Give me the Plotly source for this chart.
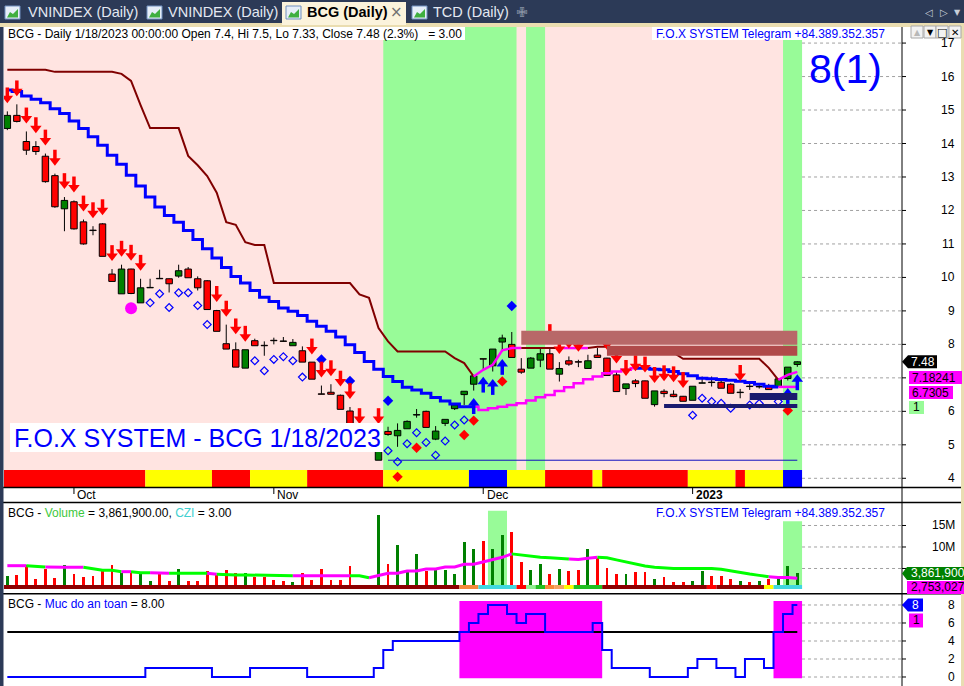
import plotly.graph_objects as go

W, H = 964, 686
FONT = "Liberation Sans, Arial, sans-serif"

# ----------------------------- data -----------------------------
month_labels = ["Oct", "Nov", "Dec", "2023"]
month_bar_idx = [7, 28, 50, 72]
price_ticks = list(range(4, 18))
price_labels_hidden_by_tags = [7]
volume_ticks = [5, 10, 15]          # millions
safety_ticks = [0, 2, 4, 6, 8]

opens = [14.45, 14.84, 14.06, 13.91, 13.62, 13.04, 12.05, 12.26, 11.66, 11.41,
         11.60, 10.10, 9.51, 10.25, 9.24, 9.69, 9.97, 9.96, 10.04, 10.25,
         9.96, 9.90, 9.01, 8.02, 7.84, 7.29, 8.11, 7.97, 8.12, 8.10,
         7.96, 7.81, 7.47, 6.52, 6.57, 6.48, 6.01, 5.35, 5.00, 4.54,
         5.40, 5.27, 5.48, 5.89, 6.00, 5.17, 5.64, 6.08, 6.50, 6.81,
         7.57, 7.36, 8.07, 8.00, 7.26, 7.29, 7.53, 7.72, 7.11, 7.51,
         7.48, 7.28, 7.68, 7.59, 7.09, 6.68, 6.91, 6.91, 6.20, 6.60,
         6.51, 6.45, 6.33, 6.84, 6.87, 6.87, 6.81, 6.56, 6.75, 6.73,
         6.75, 6.74, 6.98, 7.40]
highs = [14.96, 15.17, 14.36, 14.07, 13.70, 13.10, 12.40, 12.30, 11.73, 11.53,
         11.62, 10.25, 10.38, 10.26, 9.96, 9.96, 10.23, 9.97, 10.38, 10.31,
         10.03, 9.92, 9.03, 8.59, 8.06, 7.84, 8.17, 8.09, 8.20, 8.22,
         8.16, 7.94, 7.46, 6.77, 6.81, 6.50, 6.13, 5.38, 5.10, 5.38,
         5.54, 5.64, 5.73, 6.07, 6.02, 5.56, 5.76, 6.19, 6.60, 7.06,
         7.57, 7.86, 8.29, 8.37, 7.59, 7.62, 7.87, 7.89, 7.47, 7.64,
         7.54, 7.69, 7.89, 7.60, 7.19, 6.82, 6.96, 6.92, 6.61, 6.66,
         6.63, 6.46, 6.75, 7.04, 7.04, 6.92, 6.84, 6.67, 6.84, 6.80,
         6.82, 6.97, 7.32, 7.50]
lows = [14.40, 14.63, 13.66, 13.66, 12.83, 12.08, 11.38, 11.43, 10.98, 11.26,
        10.63, 9.88, 9.51, 9.50, 9.24, 9.69, 9.96, 9.55, 9.99, 9.99,
        9.61, 9.04, 8.39, 7.86, 7.32, 7.29, 7.96, 7.66, 8.00, 8.08,
        7.96, 7.47, 6.96, 6.51, 6.51, 6.06, 5.54, 4.90, 4.85, 4.54,
        5.27, 4.94, 5.48, 5.81, 5.52, 5.14, 5.56, 6.04, 6.19, 6.62,
        7.26, 7.19, 7.79, 7.61, 7.12, 7.29, 7.32, 7.26, 6.89, 7.36,
        7.32, 7.28, 7.61, 7.07, 6.59, 6.49, 6.72, 6.39, 6.14, 6.42,
        6.42, 6.30, 6.33, 6.84, 6.74, 6.69, 6.54, 6.39, 6.64, 6.68,
        6.65, 6.74, 6.92, 7.33]
closes = [14.84, 14.66, 13.80, 13.76, 12.86, 12.11, 12.30, 11.45, 11.00, 11.40,
          10.63, 9.88, 10.25, 9.52, 9.69, 9.70, 9.96, 9.81, 10.20, 9.99,
          9.69, 9.04, 8.39, 7.86, 7.32, 7.84, 7.96, 7.96, 8.11, 8.09,
          8.06, 7.47, 6.96, 6.51, 6.51, 6.06, 5.54, 4.95, 4.90, 4.95,
          5.31, 5.43, 5.70, 5.90, 5.52, 5.41, 5.76, 6.19, 6.60, 7.06,
          7.56, 7.86, 8.19, 7.61, 7.17, 7.59, 7.72, 7.26, 7.28, 7.41,
          7.47, 7.51, 7.61, 7.07, 6.59, 6.82, 6.83, 6.39, 6.61, 6.53,
          6.44, 6.30, 6.75, 6.85, 6.86, 6.69, 6.54, 6.57, 6.74, 6.74,
          6.65, 6.97, 7.32, 7.48]

upper_stop = [16.20, 16.20, 16.20, 16.20, 16.20, 16.14, 16.14, 16.14, 16.14, 16.14,
              16.14, 16.14, 16.08, 15.87, 15.15, 14.46, 14.46, 14.46, 14.46, 13.63,
              13.35, 13.03, 12.53, 11.65, 11.57, 11.05, 10.97, 10.97, 9.83, 9.83,
              9.83, 9.83, 9.83, 9.83, 9.83, 9.83, 9.83, 9.49, 9.39, 8.49,
              8.09, 7.79, 7.79, 7.79, 7.79, 7.79, 7.79, 7.59, 7.44, 7.04,
              7.24, 7.39, 7.82, 7.89, 7.89, 7.89, 7.89, 7.89, 7.89, 7.89,
              7.89, 7.89, 7.93, 7.93, 7.75, 7.75, 7.75, 7.75, 7.75, 7.75,
              7.75, 7.57, 7.57, 7.57, 7.57, 7.57, 7.57, 7.57, 7.57, 7.57,
              7.30, 6.94, 7.09, 7.18]
lower_ma = [15.60, 15.55, 15.42, 15.32, 15.22, 15.04, 14.90, 14.67, 14.45, 14.20,
            13.95, 13.65, 13.38, 13.05, 12.73, 12.40, 12.10, 11.85, 11.65, 11.40,
            11.13, 10.86, 10.58, 10.30, 10.03, 9.83, 9.61, 9.41, 9.28, 9.09,
            8.99, 8.86, 8.69, 8.54, 8.39, 8.22, 7.99, 7.76, 7.49, 7.26,
            7.04, 6.89, 6.72, 6.64, 6.54, 6.41, 6.31, 6.22, 6.14, 6.14,
            6.04, 6.09, 6.14, 6.19, 6.24, 6.32, 6.42, 6.49, 6.61, 6.72,
            6.84, 6.96, 7.04, 7.14, 7.19, 7.24, 7.29, 7.29, 7.26, 7.24,
            7.19, 7.12, 7.06, 6.99, 6.97, 6.95, 6.93, 6.90, 6.86, 6.81,
            6.75, 6.73, 6.73, 6.73]
upper_bull_runs = [(50, 54), (59, 61), (82, 83)]
lower_bull_runs = [(50, 66), (82, 83)]

volume_m = [3.26, 3.49, 5.81, 2.56, 4.88, 2.86, 5.81, 3.72, 3.09, 3.33,
            4.88, 5.81, 3.88, 4.42, 4.12, 2.09, 4.02, 2.09, 4.88, 2.09,
            2.09, 4.42, 3.49, 4.65, 3.88, 3.88, 3.09, 3.09, 2.33, 2.09,
            1.79, 3.88, 2.33, 4.88, 2.33, 2.33, 5.58, 0.93, 0.77, 17.4,
            5.98, 10.5, 4.65, 8.30, 4.42, 5.05, 4.65, 3.72, 11.1, 9.53,
            11.4, 9.47, 12.7, 13.6, 6.40, 4.72, 6.02, 3.72, 4.86, 4.49,
            4.72, 9.47, 7.53, 5.09, 3.72, 3.72, 4.26, 4.09, 2.56, 2.95,
            1.81, 1.81, 2.19, 4.49, 3.33, 3.33, 2.56, 2.19, 1.81, 2.19,
            2.56, 2.95, 5.63, 3.86]
volume_ma_m = [5.65, 5.65, 5.65, 5.58, 5.35, 5.23, 5.28, 5.28, 5.28, 4.88,
               4.58, 4.58, 4.26, 4.26, 4.02, 4.02, 3.88, 3.88, 3.88, 3.88,
               3.88, 3.88, 3.65, 3.49, 3.49, 3.49, 3.49, 3.49, 3.33, 3.33,
               3.33, 3.33, 3.33, 3.33, 3.33, 3.33, 3.33, 3.33, 2.86, 3.33,
               3.88, 3.88, 4.42, 4.42, 4.88, 4.88, 5.35, 5.35, 5.98, 5.98,
               6.50, 7.00, 7.60, 8.40, 8.10, 7.90, 7.60, 7.50, 7.40, 7.20,
               7.10, 7.40, 7.60, 7.50, 7.00, 6.50, 6.00, 5.60, 5.30, 5.10,
               5.00, 5.00, 5.00, 5.00, 5.00, 4.80, 4.40, 4.00, 3.70, 3.40,
               3.10, 2.90, 2.90, 2.75]
volume_ma_magenta_runs = [(0, 2), (5, 8), (13, 13), (16, 17), (22, 22), (31, 36),
                          (39, 53), (60, 62), (81, 83)]

safety = [0, 0, 0, 0, 0, 0, 0, 0, 0, 0, 0, 0, 0, 0, 0,
          1, 1, 1, 1, 1, 1, 1, 0, 0, 0, 0, 1, 1, 1, 1, 1, 1,
          0, 0, 0, 0, 0, 0, 0, 1, 3, 4, 4, 4, 4, 4, 4, 4, 5,
          6, 7, 8, 8, 7, 6, 7, 7, 5, 5, 5, 5, 5, 6, 3, 1, 1, 1, 1,
          0, 0, 0, 0, 1, 2, 2, 1, 1, 0, 2, 2, 1, 5, 7, 8]
safety_line_level = 5

trend_strip_runs = [("r", 15), ("y", 7), ("r", 4), ("y", 6), ("r", 8), ("y", 9), ("b", 4),
                    ("y", 4), ("r", 5), ("y", 1), ("r", 9), ("y", 5), ("r", 1), ("y", 4), ("b", 2)]
volume_strip_runs = [("d", 48), ("o", 2), ("c", 4), ("r", 1), ("l", 1), ("g", 1), ("o", 1),
                     ("s", 1), ("y", 1), ("g", 3), ("d", 11), ("r", 1), ("d", 5), ("y", 1), ("c", 3)]

green_zones = [(39.5, 53.5), (54.5, 56.5), (81.5, 83.5)]
supply_zones = [(54, 83, 8.41, 7.99, "rgb(184,104,104)"), (63, 83, 7.96, 7.66, "rgb(176,74,74)")]
demand_zones = [(78, 83, 6.55, 6.34), (69, 83, 6.22, 6.10)]
support_from_bar = 40
support_level_bar = 39

sell_arrow_bars = list(range(0, 15)) + [22, 23, 24, 25, 32, 33, 34, 35, 36, 37, 39,
                                         57, 58, 59, 60, 63, 64, 65, 66, 67, 68, 69, 70, 71, 77]
buy_arrow_bars = [49, 50, 51, 52, 82, 83]
open_diamond_bars = list(range(15, 22)) + list(range(26, 32)) + list(range(40, 49)) + \
    [72, 73, 74, 75, 76, 78, 79, 81]
blue_diamond_bars = [33, 36, 40, 53]
red_diamond_bars = [39, 41, 43, 48, 49, 52, 82]
magenta_circle_bars = [13]
safety_zones = [(47.5, 62.5), (80.5, 83.5)]
volume_zones = [(50.5, 52.5, 18.4), (81.5, 83.5, 16.0)]

header_text = "BCG - Daily 1/18/2023 00:00:00 Open 7.4, Hi 7.5, Lo 7.33, Close 7.48 (2.3%)   = 3.00"
telegram_text = "F.O.X SYSTEM Telegram +84.389.352.357"
price_tags = ["7.48", "7.18241", "6.7305", "1"]
volume_tags = ["3,861,900", "2,753,027"]
safety_tags = ["8", "1"]
tabs = ["VNINDEX (Daily)", "VNINDEX (Daily)", "BCG (Daily)", "TCD (Daily)"]

# ----------------------------- geometry -----------------------------
N = len(closes)
idx = list(range(N))
XR = (-0.35, 94.0)
Y1 = (3.74, 17.48)
Y2 = (-0.70, 20.23)
Y3 = (-1.0, 9.11)
MAIN_TOP, MAIN_BOT = 27, 487
VOL_TOP, VOL_BOT = 503, 593
SAF_TOP, SAF_BOT = 595, 686
PL, PR = 4, 902
ppu = (MAIN_BOT - MAIN_TOP) / (Y1[1] - Y1[0])
vppu = (VOL_BOT - VOL_TOP) / (Y2[1] - Y2[0])
sppu = (SAF_BOT - SAF_TOP) / (Y3[1] - Y3[0])


def bar_px(b):
    return PL + (b - XR[0]) / (XR[1] - XR[0]) * (PR - PL)


def main_py(v):
    return MAIN_TOP + (Y1[1] - v) * ppu


def vol_py(v):
    return VOL_TOP + (Y2[1] - v) * vppu


def saf_py(v):
    return SAF_TOP + (Y3[1] - v) * sppu


def run_spans(runs):
    out, start = [], 0
    for c, n in runs:
        out.append((c, start, start + n - 1))
        start += n
    return out


def runs_to_states(runs):
    st = [0] * N
    for a, b in runs:
        for k in range(a, b + 1):
            st[k] = 1
    return st


fig = go.Figure()

# ----------------------------- main panel -----------------------------
body_base = [min(o, c) for o, c in zip(opens, closes)]
body_h = [max(abs(c - o), 0.012) for o, c in zip(opens, closes)]
body_col = ["#008000" if c >= o else "#FF0000" for o, c in zip(opens, closes)]
fig.add_trace(go.Bar(x=idx, y=body_h, base=body_base, width=0.68,
                     marker=dict(color=body_col, line=dict(color="black", width=1)),
                     xaxis="x", yaxis="y", hoverinfo="skip"))

strip_top = Y1[0] + (MAIN_BOT - 470) / ppu

wx, wy = [], []
for i in range(N):
    top = max(opens[i], closes[i])
    bot = min(opens[i], closes[i])
    if highs[i] > top:
        wx += [i, i, None]
        wy += [top, highs[i], None]
    if lows[i] < bot:
        wx += [i, i, None]
        wy += [bot, lows[i], None]
fig.add_trace(go.Scatter(x=wx, y=wy, mode="lines", line=dict(color="black", width=1),
                         xaxis="x", yaxis="y", hoverinfo="skip"))


def add_state_line(ys, states, colors, widths, shape, xa, ya):
    i = 1
    while i < N:
        s = states[i]
        j = i
        while j + 1 < N and states[j + 1] == s:
            j += 1
        fig.add_trace(go.Scatter(x=idx[i - 1:j + 1], y=ys[i - 1:j + 1], mode="lines",
                                 line=dict(color=colors[s], width=widths[s], shape=shape),
                                 xaxis=xa, yaxis=ya, hoverinfo="skip"))
        i = j + 1


add_state_line(lower_ma, runs_to_states(lower_bull_runs), ["#0000FF", "#FF00FF"], [3, 2.5], "hvh", "x", "y")
add_state_line(upper_stop, runs_to_states(upper_bull_runs), ["#800000", "#FF00FF"], [2, 2.5], "linear", "x", "y")

sup = lows[support_level_bar]
fig.add_trace(go.Scatter(x=[support_from_bar, N - 1], y=[sup, sup], mode="lines",
                         line=dict(color="#1010C0", width=1), xaxis="x", yaxis="y", hoverinfo="skip"))


def mk(xs, ys, symbol, size, color, lw=0, lcolor=None, clip=True):
    fig.add_trace(go.Scatter(x=xs, y=ys, mode="markers", cliponaxis=clip,
                             marker=dict(symbol=symbol, size=size, color=color,
                                         line=dict(width=lw, color=lcolor or color)),
                             xaxis="x", yaxis="y", hoverinfo="skip"))


mk(open_diamond_bars, [lows[b] - 15 / ppu for b in open_diamond_bars], "diamond-open", 6, "#0000FF", 1.2)
mk(magenta_circle_bars, [lows[b] - 14 / ppu for b in magenta_circle_bars], "circle", 12, "#FF00FF")
mk(blue_diamond_bars, [highs[b] + 26 / ppu for b in blue_diamond_bars], "diamond", 8, "#0000FF")
mk(red_diamond_bars, [lows[b] - 30 / ppu for b in red_diamond_bars], "diamond", 8, "#FF0000", clip=False)
# sell arrows (red, above the high)
mk(sell_arrow_bars, [highs[b] + 13 / ppu for b in sell_arrow_bars], "triangle-down", 10, "#FF0000")
mk(sell_arrow_bars, [highs[b] + 19 / ppu for b in sell_arrow_bars], "line-ns", 7, "#FF0000", 3.5)
# buy arrows (blue, below the low)
mk(buy_arrow_bars, [lows[b] - 12.5 / ppu for b in buy_arrow_bars], "triangle-up", 10, "#0000FF")
mk(buy_arrow_bars, [lows[b] - 18.5 / ppu for b in buy_arrow_bars], "line-ns", 7, "#0000FF", 3.5)

# ----------------------------- volume panel -----------------------------
vol_base = 0.23
vol_col = ["#008000" if c >= o else "#FF0000" for o, c in zip(opens, closes)]
fig.add_trace(go.Bar(x=idx, y=[v - vol_base for v in volume_m], base=vol_base, width=0.3,
                     marker=dict(color=vol_col, line=dict(width=0)),
                     xaxis="x2", yaxis="y2", hoverinfo="skip"))
add_state_line(volume_ma_m, runs_to_states(volume_ma_magenta_runs), ["#00FF00", "#FF00FF"], [3, 3],
               "linear", "x2", "y2")

# ----------------------------- safety panel -----------------------------
fig.add_trace(go.Scatter(x=[0, N - 1], y=[safety_line_level] * 2, mode="lines",
                         line=dict(color="black", width=2), xaxis="x3", yaxis="y3", hoverinfo="skip"))
fig.add_trace(go.Scatter(x=idx, y=safety, mode="lines", line=dict(color="#0000FF", width=2, shape="hvh"),
                         xaxis="x3", yaxis="y3", hoverinfo="skip"))

# ----------------------------- shapes & annotations -----------------------------
shapes, annots = [], []


def rect_px(x0, y0, x1, y1, fill, line=None, lw=0, layer="above"):
    shapes.append(dict(type="rect", xref="paper", yref="paper", x0=x0 / W, x1=x1 / W,
                       y0=1 - y1 / H, y1=1 - y0 / H, fillcolor=fill,
                       line=dict(color=line or fill, width=lw), layer=layer))


def line_px(x0, y0, x1, y1, color="black", width=1, dash="solid", layer="above"):
    shapes.append(dict(type="line", xref="paper", yref="paper", x0=x0 / W, x1=x1 / W,
                       y0=1 - y0 / H, y1=1 - y1 / H, line=dict(color=color, width=width, dash=dash),
                       layer=layer))


def path_px(pts, fill, layer="above"):
    d = "M " + " L ".join(f"{x / W:.5f},{1 - y / H:.5f}" for x, y in pts) + " Z"
    shapes.append(dict(type="path", xref="paper", yref="paper", path=d, fillcolor=fill,
                       line=dict(width=0), layer=layer))


def text_px(x, y, s, size=12, color="black", xanchor="left", family=FONT):
    annots.append(dict(xref="paper", yref="paper", x=x / W, y=1 - y / H, text=s, showarrow=False,
                       xanchor=xanchor, yanchor="middle", font=dict(size=size, color=color, family=family)))


# main background zones
green_top = Y1[1]
shapes.append(dict(type="rect", xref="x", yref="y", x0=-0.5, x1=N - 0.5, y0=strip_top, y1=green_top,
                   fillcolor="#FFE4E1", line=dict(width=0), layer="below"))
for a, b in green_zones:
    shapes.append(dict(type="rect", xref="x", yref="y", x0=a, x1=b, y0=strip_top, y1=green_top,
                       fillcolor="#98FB98", line=dict(width=0), layer="below"))
trend_cols = {"r": "#FF0000", "y": "#FFFF00", "b": "#0000FF"}
for c, a, b in run_spans(trend_strip_runs):
    shapes.append(dict(type="rect", xref="x", yref="y", x0=a - 0.5, x1=b + 0.5, y0=Y1[0] - 0.1, y1=strip_top,
                       fillcolor=trend_cols[c], line=dict(width=0), layer="below"))
vs_cols = {"d": "#8B0000", "o": "#F58A3A", "c": "#40D8E0", "r": "#FF0000", "l": "#90EE90",
           "g": "#20C020", "s": "#F4A460", "y": "#FFFF00"}
for v in price_ticks:
    shapes.append(dict(type="line", xref="x", yref="y", x0=N - 0.5, x1=XR[1], y0=v, y1=v,
                       line=dict(color="#A0A0A0", width=1, dash="dot"), layer="below"))
for v in volume_ticks:
    shapes.append(dict(type="line", xref="x2", yref="y2", x0=N - 0.5, x1=XR[1], y0=v, y1=v,
                       line=dict(color="#A0A0A0", width=1, dash="dot"), layer="below"))
for v in safety_ticks:
    shapes.append(dict(type="line", xref="x3", yref="y3", x0=N - 0.5, x1=XR[1], y0=v, y1=v,
                       line=dict(color="#A0A0A0", width=1, dash="dot"), layer="below"))

for x0, x1, y0, y1, col in supply_zones:
    shapes.append(dict(type="rect", xref="x", yref="y", x0=x0, x1=x1, y0=y0, y1=y1,
                       fillcolor=col, line=dict(width=0), layer="above"))
for x0, x1, y0, y1 in demand_zones:
    shapes.append(dict(type="rect", xref="x", yref="y", x0=x0, x1=x1, y0=y0, y1=y1,
                       fillcolor="#1A1A6E", line=dict(width=0), layer="above"))
for a, b, top in volume_zones:
    shapes.append(dict(type="rect", xref="x2", yref="y2", x0=a, x1=b, y0=vol_base, y1=top,
                       fillcolor="#98FB98", line=dict(width=0), layer="below"))
for c, a, b in run_spans(volume_strip_runs):
    shapes.append(dict(type="rect", xref="x2", yref="y2", x0=a - 0.5, x1=b + 0.5, y0=vol_base, y1=vol_base + 0.93,
                       fillcolor=vs_cols[c], line=dict(width=0), layer="above"))
for a, b in safety_zones:
    shapes.append(dict(type="rect", xref="x3", yref="y3", x0=a, x1=b, y0=-0.14, y1=8.44,
                       fillcolor="#FF00FF", line=dict(width=0), layer="below"))

# header boxes / text
rect_px(4, 27, 465, 40, "white")
text_px(6, 34, header_text, 12)
rect_px(652, 27, 887, 40, "white")
text_px(654, 34, telegram_text, 12, "#0000FF")
text_px(845, 69, "8(1)", 41, "#0000FF", "center")
rect_px(10, 423, 383, 452, "white")
text_px(12, 438, "F.O.X SYSTEM - BCG 1/18/2023", 25, "#0000FF")

# frame lines
line_px(0, 487.5, W, 487.5, "black", 1.5)
line_px(0, 502.5, W, 502.5, "black", 1.5)
line_px(0, 593.8, W, 593.8, "black", 1.5)
line_px(PR, 27, PR, H, "black", 1)
rect_px(0, 25, 3.5, H, "#2C3A57")
rect_px(961, 25, W, H, "#E9DDB2")

# date axis
for lab, b in zip(month_labels, month_bar_idx):
    x = bar_px(b)
    line_px(x, 488, x, 494, "black", 1)
    annots.append(dict(xref="paper", yref="paper", x=(x + 1.5) / W, y=1 - 495.5 / H,
                       text=f"<b>{lab}</b>" if lab == "2023" else lab, showarrow=False,
                       xanchor="left", yanchor="middle", font=dict(size=12, color="black", family=FONT)))

# right axis labels + tick marks
for v in price_ticks:
    y = main_py(v)
    line_px(PR, y, PR + 4, y, "black", 1)
    if v not in price_labels_hidden_by_tags:
        text_px(957, y, str(v), 12, "black", "right")
for v in volume_ticks:
    y = vol_py(v)
    line_px(PR, y, PR + 4, y, "black", 1)
    if v >= 10:
        text_px(957, y, f"{v}M", 12, "black", "right")
for v in safety_ticks:
    y = saf_py(v)
    line_px(PR, y, PR + 4, y, "black", 1)
    text_px(957, y, str(v), 12, "black", "right")

# price tags
yc = main_py(closes[-1])
path_px([(PR, yc), (908, yc - 6.5), (937, yc - 6.5), (937, yc + 6.5), (908, yc + 6.5)], "black")
text_px(922.5, yc, price_tags[0], 12, "white", "center")
rect_px(909, 371, 962, 384, "#FF00FF")
text_px(910, 377.5, price_tags[1], 12, "black")
rect_px(909, 386, 953, 399, "#FF00FF")
text_px(910, 392.5, price_tags[2], 12, "black")
rect_px(909, 401, 924, 414, "#98FB98")
text_px(916.5, 407.5, price_tags[3], 12, "black", "center")

yv = vol_py(volume_m[-1])
path_px([(PR, yv), (907, yv - 6.5), (W, yv - 6.5), (W, yv + 6.5), (907, yv + 6.5)], "#008000")
text_px(909, yv, volume_tags[0], 12, "white")
rect_px(907, yv + 7.5, W, yv + 20.5, "#FF00FF")
text_px(909, yv + 14, volume_tags[1], 12, "black")

ys8 = saf_py(safety[-1])
path_px([(PR, ys8), (908, ys8 - 6.5), (923, ys8 - 6.5), (923, ys8 + 6.5), (908, ys8 + 6.5)], "#0000FF")
text_px(915.5, ys8, safety_tags[0], 12, "white", "center")
rect_px(909, ys8 + 8.5, 923, ys8 + 22.5, "#FF00FF")
text_px(916, ys8 + 15.5, safety_tags[1], 12, "black", "center")

# panel titles
text_px(6, 513, "BCG - <span style='color:#3CC83C'>Volume</span> = 3,861,900.00, "
        "<span style='color:#40D0D0'>CZI</span> = 3.00", 12)
text_px(654, 513, telegram_text, 12, "#0000FF")
text_px(6, 604, "BCG - <span style='color:#0000FF'>Muc do an toan</span> = 8.00", 12)

# tab bar
rect_px(0, 0, W, 24, "#2C3A57")
rect_px(0, 23, W, 27, "#EADDB0")
rect_px(282, 2, 406, 25, "#FBF3DC")
tab_x = [(5, 26), (147, 166), (286, 305), (412, 431)]
for k, (ix, tx) in enumerate(tab_x):
    rect_px(ix, 6, ix + 15, 19, "#E6EEF8", "#7090C0", 1)
    path_px([(ix + 2, 17.5), (ix + 5, 12), (ix + 8, 14), (ix + 13, 9), (ix + 13, 17.5)], "#3FAF3F")
    if k == 2:
        text_px(tx, 12.5, f"<b>{tabs[k]}</b>", 14.5, "black")
    else:
        text_px(tx, 12.5, tabs[k], 14.5, "#E4E9F2")
text_px(396, 12, "×", 15, "#707070", "center", "DejaVu Sans")
text_px(522, 12, "✙", 14, "#8A93A6", "center", "DejaVu Sans")
text_px(929, 12, "◁", 10, "#C8CED8", "center", "DejaVu Sans")
text_px(944, 12, "▷", 10, "#C8CED8", "center", "DejaVu Sans")
text_px(957, 13, "▼", 8, "#C8CED8", "center", "DejaVu Sans")

# window buttons
for cx, g, col, sz in [(917, "▲", "#B8B8B8", 8), (930, "▼", "black", 8), (942, "□", "black", 11), (955, "✕", "black", 10)]:
    rect_px(cx - 6, 26, cx + 6, 38, "#F2F2F2", "#A8A8A8", 1)
    text_px(cx, 32, g, sz, col, "center", "DejaVu Sans")

# ----------------------------- layout -----------------------------
xcommon = dict(range=list(XR), showgrid=False, zeroline=False, showticklabels=False, ticks="",
               showline=False, domain=[PL / W, PR / W], fixedrange=True)
ycommon = dict(showgrid=False, zeroline=False, showticklabels=False, ticks="", showline=False, fixedrange=True)
fig.update_layout(
    width=W, height=H, margin=dict(l=0, r=0, t=0, b=0),
    paper_bgcolor="white", plot_bgcolor="white", showlegend=False,
    barmode="overlay", bargap=0,
    xaxis=dict(anchor="y", **xcommon),
    xaxis2=dict(anchor="y2", matches="x", **xcommon),
    xaxis3=dict(anchor="y3", matches="x", **xcommon),
    yaxis=dict(domain=[1 - MAIN_BOT / H, 1 - MAIN_TOP / H], range=list(Y1), anchor="x", **ycommon),
    yaxis2=dict(domain=[1 - VOL_BOT / H, 1 - VOL_TOP / H], range=list(Y2), anchor="x2", **ycommon),
    yaxis3=dict(domain=[0, 1 - SAF_TOP / H], range=list(Y3), anchor="x3", **ycommon),
    shapes=shapes, annotations=annots,
    font=dict(family=FONT, size=12),
)

fig.write_html("out.html", config={"displayModeBar": False, "staticPlot": True},
               post_script="document.body.style.margin='0px';document.body.style.overflow='hidden';")
